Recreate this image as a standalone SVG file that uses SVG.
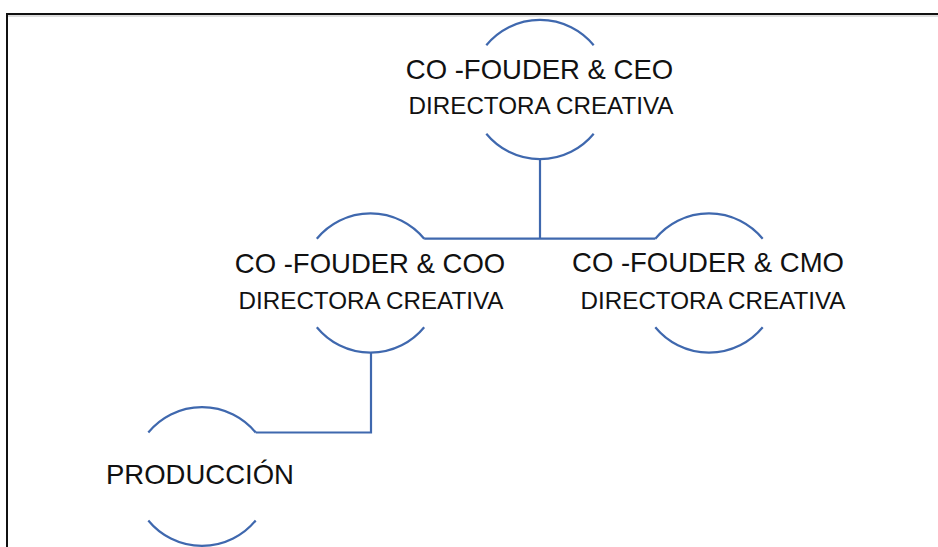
<svg xmlns="http://www.w3.org/2000/svg" width="938" height="547" viewBox="0 0 938 547">
<style>
.arc{fill:none;stroke:#3F68AE;stroke-width:2.2}
.con{fill:none;stroke:#3F68AE;stroke-width:2.2}
.t1{font-family:"Liberation Sans",Arial,sans-serif;font-size:27.5px;fill:#111;text-anchor:middle}
.t2{font-family:"Liberation Sans",Arial,sans-serif;font-size:24.2px;fill:#111;text-anchor:middle}
</style>
<rect width="938" height="547" fill="#fff"/>
<path d="M7 547 V14 H938" fill="none" stroke="#111" stroke-width="2"/>
<line x1="8" y1="16" x2="938" y2="16" stroke="#bbb" stroke-width="1"/>
<g id="connectors">
<path class="con" d="M540 158.5 V238.7"/>
<path class="con" d="M424.2 238.7 H655.3"/>
<path class="con" d="M371 352.5 V432.5 H255.7"/>
</g>
<g id="ceo">
<path class="arc" d="M486.3 45.2 A69.5 69.5 0 0 1 593.7 45.2"/>
<path class="arc" d="M486.3 133.8 A69.5 69.5 0 0 0 593.7 133.8"/>
<text class="t1" x="539.5" y="79">CO -FOUDER &amp; CEO</text>
<text class="t2" x="541" y="114">DIRECTORA CREATIVA</text>
</g>
<g id="coo">
<path class="arc" d="M316.8 238.7 A69.5 69.5 0 0 1 424.2 238.7"/>
<path class="arc" d="M316.8 327.3 A69.5 69.5 0 0 0 424.2 327.3"/>
<text class="t1" x="370" y="273">CO -FOUDER &amp; COO</text>
<text class="t2" x="371" y="309">DIRECTORA CREATIVA</text>
</g>
<g id="cmo">
<path class="arc" d="M655.3 238.7 A69.5 69.5 0 0 1 762.7 238.7"/>
<path class="arc" d="M655.3 327.3 A69.5 69.5 0 0 0 762.7 327.3"/>
<text class="t1" x="708" y="272">CO -FOUDER &amp; CMO</text>
<text class="t2" x="713" y="309">DIRECTORA CREATIVA</text>
</g>
<g id="produccion">
<path class="arc" d="M148.3 432.5 A69.5 69.5 0 0 1 255.7 432.5"/>
<path class="arc" d="M148.3 520.5 A69.5 69.5 0 0 0 255.7 520.5"/>
<text class="t1" x="200" y="484">PRODUCCIÓN</text>
</g>
</svg>
